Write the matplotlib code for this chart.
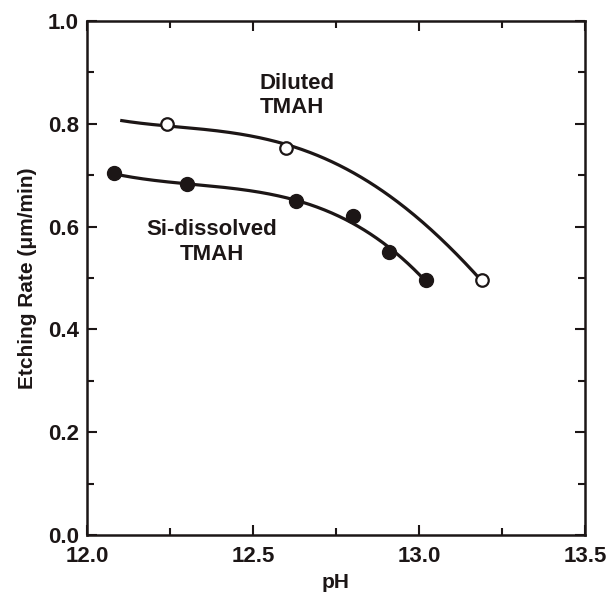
import numpy as np
import matplotlib
matplotlib.use("Agg")
import matplotlib.pyplot as plt
from matplotlib.ticker import MultipleLocator

plt.rcParams['font.family'] = ['Liberation Sans', 'DejaVu Sans']
plt.rcParams['font.weight'] = 'bold'

# Data points
diluted_ph = [12.24, 12.60, 13.19]
diluted_rate = [0.800, 0.752, 0.497]
sidis_ph = [12.08, 12.30, 12.63, 12.80, 12.91, 13.02]
sidis_rate = [0.704, 0.683, 0.650, 0.621, 0.551, 0.496]

# Trend-curve samples
diluted_curve_ph = [12.10, 12.24, 12.43, 12.60, 12.74, 12.89, 12.99, 13.09, 13.19]
diluted_curve_rate = [0.805, 0.800, 0.782, 0.753, 0.730, 0.675, 0.619, 0.554, 0.497]
sidis_curve_ph = [12.08, 12.30, 12.63, 12.80, 12.91, 13.02]
sidis_curve_rate = [0.703, 0.683, 0.650, 0.612, 0.553, 0.496]

ink = '#1c1616'

fig = plt.figure(figsize=(6.06, 6.03), dpi=100)
ax = fig.add_axes([87/606, 1 - 535/603, (585-87)/606, (535-21)/603])

def smooth(xs, ys, deg):
    c = np.polyfit(xs, ys, deg)
    xx = np.linspace(min(xs), max(xs), 300)
    return xx, np.polyval(c, xx)

xx, yy = smooth(diluted_curve_ph, diluted_curve_rate, 4)
ax.plot(xx, yy, color=ink, lw=2.3, solid_capstyle='butt', zorder=2)
xx, yy = smooth(sidis_curve_ph, sidis_curve_rate, 3)
ax.plot(xx, yy, color=ink, lw=2.3, solid_capstyle='butt', zorder=2)

ax.plot(diluted_ph, diluted_rate, 'o', ms=9, mfc='white', mec=ink, mew=1.6, zorder=3)
ax.plot(sidis_ph, sidis_rate, 'o', ms=10, mfc=ink, mec=ink, zorder=3)

ax.text(12.52, 0.855, 'Diluted\nTMAH', ha='left', va='center', fontsize=16,
        fontweight='bold', color=ink, linespacing=1.2)
ax.text(12.377, 0.570, 'Si-dissolved\nTMAH', ha='center', va='center', fontsize=16,
        fontweight='bold', color=ink, linespacing=1.2)

ax.set_xlim(12.0, 13.5)
ax.set_ylim(0.0, 1.0)
ax.xaxis.set_major_locator(MultipleLocator(0.5))
ax.xaxis.set_minor_locator(MultipleLocator(0.25))
ax.yaxis.set_major_locator(MultipleLocator(0.2))
ax.yaxis.set_minor_locator(MultipleLocator(0.1))
ax.xaxis.set_major_formatter(plt.FuncFormatter(lambda v, p: f'{v:.1f}'))
ax.yaxis.set_major_formatter(plt.FuncFormatter(lambda v, p: f'{v:.1f}'))
ax.tick_params(which='both', direction='in', top=True, right=True, colors=ink,
               labelsize=16, width=1.5)
ax.tick_params(which='major', length=7)
ax.tick_params(axis='x', which='major', pad=8)
ax.tick_params(axis='y', which='major', pad=6)
ax.tick_params(which='minor', length=5)
for lab in ax.get_xticklabels() + ax.get_yticklabels():
    lab.set_fontweight('bold')
for s in ax.spines.values():
    s.set_linewidth(1.8)
    s.set_color(ink)

ax.set_xlabel('pH', fontsize=15, fontweight='bold', color=ink, labelpad=4)
ax.set_ylabel('Etching Rate (\u03bcm/min)', fontsize=15, fontweight='bold', color=ink, labelpad=8)

fig.savefig('out.png', dpi=100)
